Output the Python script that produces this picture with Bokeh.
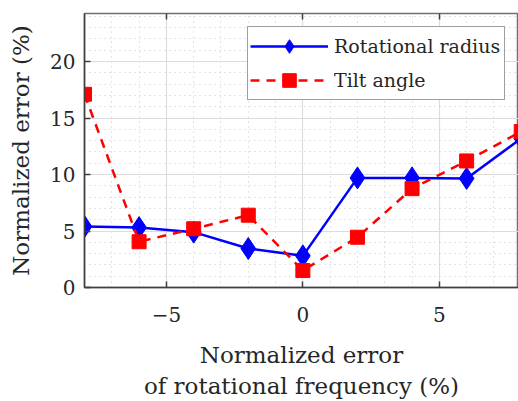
from bokeh.plotting import figure
from bokeh.models import SingleIntervalTicker, Legend, LegendItem, Range1d, LinearAxis
from bokeh.embed import file_html
from bokeh.resources import INLINE

freq_err = [-8, -6, -4, -2, 0, 2, 4, 6, 8]
radius_err = [5.4, 5.3, 4.9, 3.45, 2.8, 9.7, 9.7, 9.65, 13.2]
tilt_err = [17.1, 4.05, 5.2, 6.4, 1.5, 4.45, 8.75, 11.2, 13.8]
x_ticks = [-5, 0, 5]
x_tick_labels = ["\u22125", "0", "5"]

FONT = "DejaVu Serif"
TXT = "#262626"

p = figure(width=518, height=401, output_backend="svg", toolbar_location=None,
           x_range=Range1d(-8, 7.9), y_range=Range1d(0, 24.25),
           min_border_left=84, min_border_right=0, min_border_top=13, min_border_bottom=10)

p.outline_line_color = "#707070"
p.outline_line_width = 1.5
p.background_fill_color = "white"
p.border_fill_color = "white"

p.xaxis.ticker = SingleIntervalTicker(interval=5, num_minor_ticks=5)
p.yaxis.ticker = SingleIntervalTicker(interval=5, num_minor_ticks=5)
p.xaxis.major_label_overrides = dict(zip(x_ticks, x_tick_labels))

for ax in (p.xaxis[0], p.yaxis[0]):
    ax.axis_line_color = "#404040"
    ax.axis_line_width = 1.5
    ax.major_tick_in = 6
    ax.major_tick_out = 0
    ax.minor_tick_in = 0
    ax.minor_tick_out = 0
    ax.major_tick_line_color = "#404040"
    ax.major_tick_line_width = 1.5
    ax.major_label_text_font = FONT
    ax.major_label_text_font_size = "20px"
    ax.major_label_text_color = TXT
    ax.axis_label_text_font = FONT
    ax.axis_label_text_font_size = "23px"
    ax.axis_label_text_font_style = "normal"
    ax.axis_label_text_color = TXT

p.xaxis.major_label_standoff = 19
p.yaxis.major_label_standoff = 9
p.xaxis.axis_label = "Normalized error\nof rotational frequency (%)"
p.xaxis.axis_label_standoff = 17
p.yaxis.axis_label = "Normalized error (%)"
p.yaxis.axis_label_standoff = 13

top = LinearAxis(ticker=SingleIntervalTicker(interval=5, num_minor_ticks=5),
                 major_label_overrides={v: "" for v in x_ticks},
                 axis_line_color=None,
                 major_tick_in=6, major_tick_out=0, minor_tick_in=0, minor_tick_out=0,
                 major_tick_line_color="#404040", major_tick_line_width=1.5,
                 major_label_standoff=0)
p.add_layout(top, "above")

p.xgrid.grid_line_color = "#dcdcdc"
p.ygrid.grid_line_color = "#dcdcdc"
p.xgrid.grid_line_width = 1.2
p.ygrid.grid_line_width = 1.2
p.xgrid.minor_grid_line_color = "#c8c8c8"
p.ygrid.minor_grid_line_color = "#c8c8c8"
p.xgrid.minor_grid_line_dash = "1 4"
p.ygrid.minor_grid_line_dash = "1 4"

bl = p.line(freq_err, radius_err, line_color="blue", line_width=2.5)
bm = p.scatter(freq_err, radius_err, marker="diamond", size=22, fill_color="blue", line_color="blue")
rl = p.line(freq_err, tilt_err, line_color="red", line_width=2.5, line_dash="9 7")
rm = p.scatter(freq_err, tilt_err, marker="square", size=14, fill_color="red", line_color="red")

legend = Legend(items=[LegendItem(label="Rotational radius", renderers=[bl, bm]),
                       LegendItem(label="Tilt angle", renderers=[rl, rm])],
                location=(163, 187))
legend.glyph_width = 78
legend.glyph_height = 34
legend.label_text_font = FONT
legend.label_text_font_size = "19px"
legend.label_text_color = TXT
legend.label_width = 168
legend.border_line_color = "#404040"
legend.border_line_width = 1.5
legend.padding = 2
legend.spacing = 0
legend.margin = 0
legend.label_standoff = 6
p.add_layout(legend)

open("out.html", "w").write(file_html(p, INLINE))
